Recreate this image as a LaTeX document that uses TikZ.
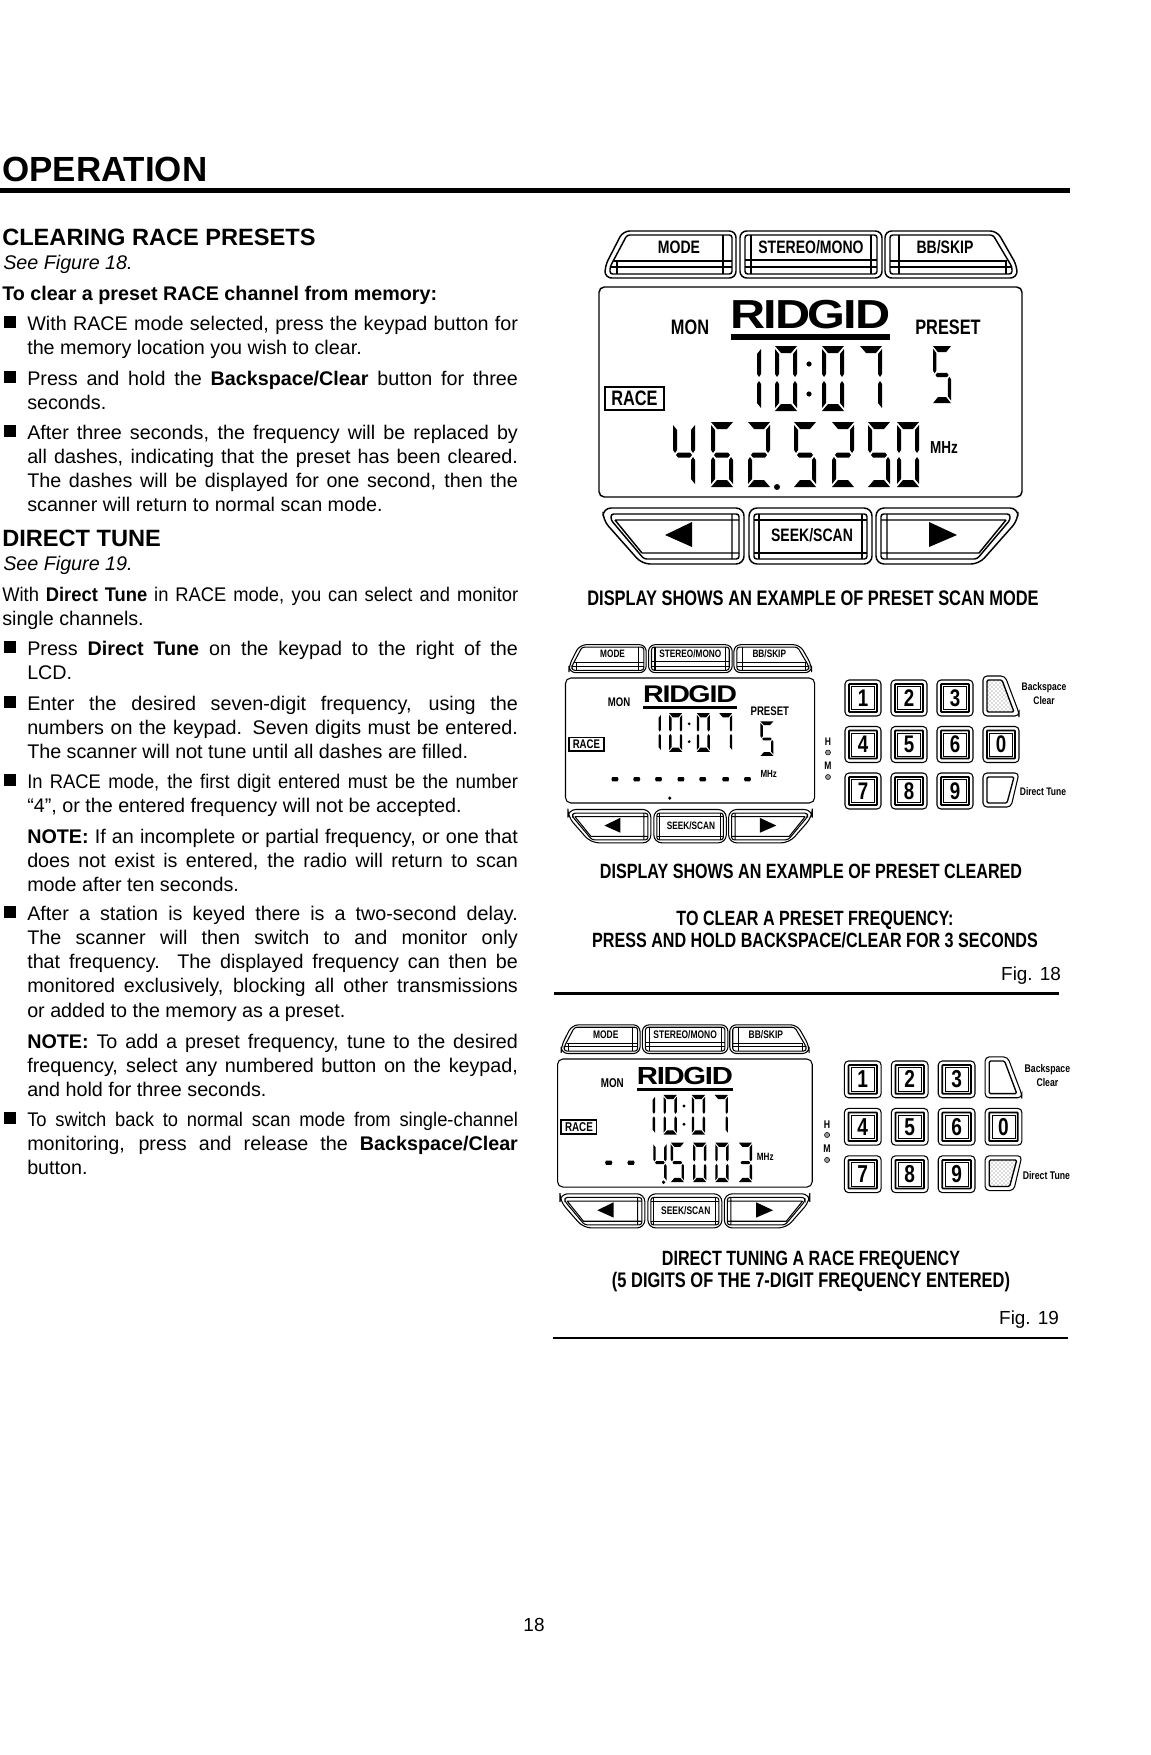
\documentclass[tikz,border=0pt]{standalone}
\usepackage{fontspec}
\setmainfont{Liberation Sans}
\newfontfamily\capfont{Liberation Sans}[FakeStretch=0.78]
\newfontfamily\tightfont{Liberation Sans}[FakeStretch=0.93]
\newfontfamily\logofont{Liberation Sans}[FakeStretch=1.2]
\usetikzlibrary{patterns}

\tikzset{
  bodytxt/.style={anchor=north west,inner sep=0pt,align=justify,font=\fontsize{14.8}{18.2}\selectfont},
  headtxt/.style={anchor=west,inner sep=0pt,font=\fontsize{17.7}{20}\selectfont\bfseries},
  seetxt/.style={anchor=west,inner sep=0pt,font=\fontsize{14.8}{17}\selectfont\itshape},
  leadtxt/.style={anchor=west,inner sep=0pt,font=\fontsize{14.8}{17}\selectfont\bfseries},
  captxt/.style={inner sep=0pt,font=\fontsize{15.8}{18}\capfont\bfseries},
  capsmalltxt/.style={inner sep=0pt,font=\fontsize{15.5}{18}\capfont\bfseries},
  figtxt/.style={inner sep=0pt,font=\fontsize{14.2}{17}\selectfont},
  btntxt/.style={inner sep=0pt,font=\fontsize{13.5}{16}\capfont\bfseries},
  lcdtxt/.style={inner sep=0pt,font=\fontsize{15.7}{18}\capfont\bfseries},
  smalltxt/.style={inner sep=0pt,font=\fontsize{13}{15}\capfont\bfseries},
  tinytxt/.style={inner sep=0pt,font=\fontsize{8.2}{10}\capfont\bfseries},
  keytxt/.style={inner sep=0pt,font=\fontsize{18}{20}\capfont\bfseries},
  btnln/.style={line width=1.1pt},
}

% segments of a display digit, 22 x 65 px
\def\sega{\fill (0,0)--(22,0)--(16,7)--(6,7)--cycle;}
\def\segb{\fill (22,3)--(22,28)--(20,31)--(18,28)--(18,8)--cycle;}
\def\segc{\fill (22,62)--(22,38)--(20,35)--(18,38)--(18,57)--cycle;}
\def\segd{\fill (0,65)--(22,65)--(16,58)--(6,58)--cycle;}
\def\sege{\fill (0,62)--(0,38)--(2,35)--(4,38)--(4,57)--cycle;}
\def\segf{\fill (0,3)--(0,28)--(2,31)--(4,28)--(4,8)--cycle;}
\def\segg{\fill (5,30.5)--(17,30.5)--(19,33)--(17,35.5)--(5,35.5)--(3,33)--cycle;}
\def\digzero{a,b,c,d,e,f}
\def\digone{b,c}
\def\digtwo{a,b,g,e,d}
\def\digthree{a,b,g,c,d}
\def\digfour{f,g,b,c}
\def\digfive{a,f,g,c,d}
\def\digsix{a,f,g,e,c,d}
\def\digseven{a,b,c}
\newcommand{\lcddigit}[3]{\begin{scope}[shift={(#1,#2)}]
\foreach \seg in #3 {\csname seg\seg\endcsname}
\end{scope}}
\newcommand{\lcddash}[1]{\begin{scope}[shift={(#1+2.75,200.8)},xscale=0.75,yscale=1.4]\segg\end{scope}}

% buttons, display frame and the parts all three displays share
\newcommand{\lcdpanel}[1]{
%MODE
\draw [btnln,rounded corners=5] (53,21)--(166,21)--(166,68)--(35,68)--(35,56)--cycle;
\draw [btnln,rounded corners=2] (57,25)--(162,25)--(162,64)--(40,64)--(40,57)--cycle;
\draw [btnln] (44,51)--(162,51) (40,57)--(162,57) (47,51)--(47,64) (153,25)--(153,64);
\node [btntxt] (#1mode) at (109,37) {MODE};
%STEREO/MONO
\draw [btnln,rounded corners=5] (170,21) rectangle (312,68);
\draw [btnln,rounded corners=2] (175,25) rectangle (307,64);
\draw [btnln] (175,50)--(307,50) (175,57)--(307,57) (181,25)--(181,64) (301,25)--(301,64);
\node [btntxt] (#1stereo) at (241,37) {STEREO/MONO};
%BB/SKIP
\draw [btnln,rounded corners=5] (315,21)--(427,21)--(447,56)--(447,68)--(315,68)--cycle;
\draw [btnln,rounded corners=2] (320,25)--(423,25)--(442,57)--(442,64)--(320,64)--cycle;
\draw [btnln] (320,51)--(437,51) (320,57)--(442,57) (329,25)--(329,64) (436,51)--(436,64);
\node [btntxt] (#1skip) at (375,37) {BB/SKIP};
%display frame
\draw [btnln,rounded corners=4] (29,77) rectangle (452,287);
\node [inner sep=0pt,font=\fontsize{30.4}{32}\logofont\bfseries] (#1logo) at (240.5,104.5) {R\kern-1.5pt I\kern-1.5pt D\kern-2pt G\kern-1.5pt I\kern-1.5pt D};
\fill (161,124) rectangle (320,129.5);
\node [lcdtxt] (#1mon) at (120,117) {MON};
\draw [line width=1.2pt] (35,177) rectangle (94,200);
\node [lcdtxt] (#1race) at (64.5,188.5) {RACE};
\node [smalltxt] (#1mhz) at (374,238) {MHz};
%10:07
\lcddigit{169}{136}{\digone}
\lcddigit{205}{136}{\digzero}
\fill (239,154) circle (2.6) (239,184) circle (2.6);
\lcddigit{252}{136}{\digzero}
\lcddigit{290}{136}{\digseven}
%left arrow
\draw [btnln,rounded corners=6] (33,298)--(174,298)--(174,354)--(72,354)--(33,310)--cycle;
\draw [btnln,rounded corners=2] (41,304)--(169,304)--(169,349)--(74,349)--(41,310)--cycle;
\draw [btnln] (45,310)--(169,310) (72,343)--(169,343) (45,310)--(72,343) (162,304)--(162,349);
\fill (95,325)--(122,312)--(122,337)--cycle;
%SEEK/SCAN
\draw [btnln,rounded corners=6] (179,298) rectangle (302,354);
\draw [btnln,rounded corners=2] (184,304) rectangle (297,349);
\draw [btnln] (184,310)--(297,310) (184,343)--(297,343) (189,304)--(189,349) (292,304)--(292,349);
\node [btntxt] (#1seek) at (242,325) {SEEK/SCAN};
%right arrow
\draw [btnln,rounded corners=6] (306,298)--(448,298)--(448,310)--(409,354)--(306,354)--cycle;
\draw [btnln,rounded corners=2] (311,304)--(440,304)--(440,310)--(407,349)--(311,349)--cycle;
\draw [btnln] (311,310)--(436,310) (311,343)--(409,343) (436,310)--(409,343) (317,304)--(317,349);
\fill (359,312)--(359,337)--(387,325)--cycle;
}

% keypad, #2 and #3 are the fills of the two slanted keys
\newcommand{\keycap}[3]{
\begin{scope}[shift={(#1,#2)}]
\draw [btnln,rounded corners=3] (0,0) rectangle (36,36);
\draw [line width=1.3pt,rounded corners=0.5] (4,4) rectangle (32,32);
\draw [line width=0.3pt] (6.5,6.5) rectangle (29.5,29.5);
\node [keytxt] at (18,18) {#3};
\end{scope}
}
\newcommand{\keypad}[3]{
\keycap{0}{0}{1} \keycap{46}{0}{2} \keycap{92}{0}{3}
\keycap{0}{46.5}{4} \keycap{46}{46.5}{5} \keycap{92}{46.5}{6} \keycap{138}{46.5}{0}
\keycap{0}{93}{7} \keycap{46}{93}{8} \keycap{92}{93}{9}
%Backspace/Clear
\draw [btnln,rounded corners=3] (138,-4)--(160,-4)--(174,33)--(174,36)--(138,36)--cycle;
\draw [line width=1pt,rounded corners=1,#2] (142,0)--(157,0)--(169,32)--(142,32)--cycle;
\node [tinytxt] (#1back) at (199,8) {Backspace};
\node [tinytxt] (#1clear) at (199,21) {Clear};
%Direct Tune
\draw [btnln,rounded corners=3] (138,93)--(174,93)--(166,127)--(138,127)--cycle;
\draw [line width=1pt,rounded corners=1,#3] (142,97)--(169,97)--(162,123)--(142,123)--cycle;
\node [tinytxt] (#1tune) at (198,112) {Direct Tune};
%H and M lamps
\node [tinytxt] (#1h) at (-17,62) {H};
\draw [line width=0.4pt,fill=black!40] (-17,72.5) circle (2.5);
\node [tinytxt] (#1m) at (-17,86) {M};
\draw [line width=0.4pt,fill=black!40] (-17,97) circle (2.5);
}

\begin{document}
\begin{tikzpicture}[x=0.75pt,y=-0.75pt]
\useasboundingbox (0,0) rectangle (1151,1755);

% Left column
\node [inner sep=0pt,anchor=west,font=\fontsize{26.2}{30}\selectfont\bfseries] (title) at (2,169.5) {OPERATION};
\fill (0,188) rectangle (1070,193.5);

\node [headtxt] (clearhead) at (2,237) {CLEARING RACE PRESETS};
\node [seetxt] (seefigA) at (3,264) {See Figure 18.};
\node [leadtxt] (clearlead) at (2,295) {To clear a preset RACE channel from memory:};

\node [bodytxt,text width=368pt] (paraA) at (27,315.5) {With RACE mode selected, press the keypad button for\linebreak the memory location you wish to clear.};
\node [bodytxt,text width=368pt] (paraB) at (27,370.5) {Press and hold the \textbf{Backspace/Clear} button for three\linebreak seconds.};
\node [bodytxt,text width=368pt] (paraC) at (27,424.5) {After three seconds, the frequency will be replaced by\linebreak all dashes, indicating that the preset has been cleared.\linebreak The dashes will be displayed for one second, then the\linebreak scanner will return to normal scan mode.};

\node [headtxt] (tunehead) at (2,538) {DIRECT TUNE};
\node [seetxt] (seefigB) at (3,565) {See Figure 19.};

\node [bodytxt,text width=387pt] (paraD) at (2,586.5) {{\tightfont With \textbf{Direct Tune} in RACE mode, you can select and monitor}\linebreak single channels.};
\node [bodytxt,text width=368pt] (paraE) at (27,640.5) {Press \textbf{Direct Tune} on the keypad to the right of the\linebreak LCD.};
\node [bodytxt,text width=368pt] (paraF) at (27,695.5) {Enter the desired seven-digit frequency, using the\linebreak numbers on the keypad. Seven digits must be entered.\linebreak The scanner will not tune until all dashes are filled.};
\node [bodytxt,text width=368pt] (paraG) at (27,773.5) {{\tightfont In RACE mode, the first digit entered must be the number}\linebreak “4”, or the entered frequency will not be accepted.};
\node [bodytxt,text width=368pt] (paraH) at (27,828.5) {\textbf{NOTE:} If an incomplete or partial frequency, or one that\linebreak does not exist is entered, the radio will return to scan\linebreak mode after ten seconds.};
\node [bodytxt,text width=368pt] (paraI) at (27,905.5) {After a station is keyed there is a two-second delay.\linebreak The scanner will then switch to and monitor only\linebreak that frequency. The displayed frequency can then be\linebreak monitored exclusively, blocking all other transmissions\linebreak or added to the memory as a preset.};
\node [bodytxt,text width=368pt] (paraJ) at (27,1033.5) {\textbf{NOTE:} To add a preset frequency, tune to the desired\linebreak frequency, select any numbered button on the keypad,\linebreak and hold for three seconds.};
\node [bodytxt,text width=368pt] (paraK) at (27,1111.5) {{\tightfont To switch back to normal scan mode from single-channel}\linebreak monitoring, press and release the \textbf{Backspace/Clear}\linebreak button.};

% Bullets
\foreach \ypos in {322,377,431,647,702,780,912,1118} {
\fill (4,\ypos-6) rectangle (16,\ypos+6);
}

% Fig. 18, large display
\begin{scope}[shift={(570,210)}]
\lcdpanel{big}
\node [lcdtxt] (bigpreset) at (378,117) {PRESET};
\begin{scope}[shift={(363,136)},xscale=0.82,yscale=0.88]
\lcddigit{0}{0}{\digfive}
\end{scope}
\lcddigit{103}{212}{\digfour}
\lcddigit{141}{212}{\digsix}
\lcddigit{178}{212}{\digtwo}
\fill (207,277) circle (3);
\lcddigit{224}{212}{\digfive}
\lcddigit{262}{212}{\digtwo}
\lcddigit{298}{212}{\digfive}
\lcddigit{327}{212}{\digzero}
\end{scope}
\node [captxt] (capA) at (813,598) {DISPLAY SHOWS AN EXAMPLE OF PRESET SCAN MODE};

% Fig. 18, cleared display
\begin{scope}[shift={(548.4,632.2)},xscale=0.589,yscale=0.595,transform shape,btnln/.style={line width=0.8pt}]
\lcdpanel{clr}
\node [lcdtxt] (clrpreset) at (376,132) {PRESET};
\begin{scope}[shift={(360,150)},yscale=0.89]
\lcddigit{0}{0}{\digfive}
\end{scope}
\lcddash{102}
\lcddash{139}
\lcddash{176}
\lcddash{214}
\lcddash{251}
\lcddash{290}
\lcddash{327}
\fill (206,279) circle (3);
\end{scope}
\begin{scope}[shift={(845,680)},btnln/.style={line width=0.8pt}]
\keypad{clrkey}{pattern=crosshatch dots,pattern color=black!60}{}
\end{scope}
\node [capsmalltxt] (capB) at (811,871) {DISPLAY SHOWS AN EXAMPLE OF PRESET CLEARED};
\node [capsmalltxt] (capC) at (815,920) {TO CLEAR A PRESET FREQUENCY:};
\node [capsmalltxt] (capD) at (815,940) {PRESS AND HOLD BACKSPACE/CLEAR FOR 3 SECONDS};
\node [figtxt] (figA) at (1031,976) {Fig. 18};
\fill (554,992) rectangle (1059,994.5);

% Fig. 19, direct tuning display
\begin{scope}[shift={(540.1,1012)},xscale=0.602,yscale=0.61,transform shape,btnln/.style={line width=0.8pt}]
\lcdpanel{dir}
\lcddash{103}
\lcddash{140}
\lcddigit{188}{214}{\digfour}
\fill (205,279) circle (3);
\lcddigit{217}{214}{\digfive}
\lcddigit{254}{214}{\digzero}
\lcddigit{291}{214}{\digzero}
\lcddigit{330}{214}{\digthree}
\end{scope}
\begin{scope}[shift={(844.4,1061)},scale=1.02,transform shape,btnln/.style={line width=0.8pt}]
\keypad{dirkey}{}{pattern=crosshatch dots,pattern color=black!60}
\end{scope}
\node [capsmalltxt] (capE) at (811,1260) {DIRECT TUNING A RACE FREQUENCY};
\node [captxt] (capF) at (811,1282) {(5 DIGITS OF THE 7-DIGIT FREQUENCY ENTERED)};
\node [figtxt] (figB) at (1029,1320) {Fig. 19};
\fill (553,1336.5) rectangle (1068,1339);

\node [figtxt] (pagenum) at (534,1625) {18};

\end{tikzpicture}
\end{document}
